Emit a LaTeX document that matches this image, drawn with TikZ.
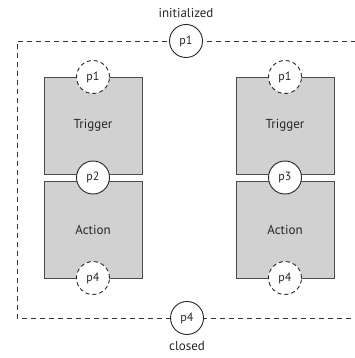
\documentclass[tikz,border=0pt]{standalone}
\usepackage{fontspec}
\setmainfont{PT Sans}
\begin{document}
\begin{tikzpicture}[x=1pt,y=-1pt,
  box/.style={draw=black!70,fill=black!18,line width=0.9pt,minimum width=98pt,minimum height=97pt,inner sep=0pt,font=\fontsize{13}{15}\selectfont,text=black!85},
  port/.style={circle,draw=black!85,fill=white,line width=0.9pt,minimum size=33pt,inner sep=0pt,font=\fontsize{12}{14}\selectfont,text=black!85},
  dport/.style={port,dash pattern=on 4pt off 3pt},
  lbl/.style={font=\fontsize{13}{15}\selectfont,text=black!85,inner sep=0pt},
  frame/.style={draw=black!80,line width=0.8pt,dash pattern=on 5pt off 4pt}]
\useasboundingbox (0,0) rectangle (355,358);
% frame
\coordinate (tr) at (356,41);
\coordinate (tl) at (17,41);
\coordinate (bl) at (17,318);
\coordinate (br) at (356,318);
\draw[frame] (tr) -- (tl) -- (bl) -- (br);
% boxes
\node[box] (t1) at (93,125.5) {Trigger};
\node[box] (a1) at (93,229.5) {Action};
\node[box] (t2) at (285,125.5) {Trigger};
\node[box] (a2) at (285,229.5) {Action};
% ports
\node[port] (p1) at (186,41) {p1};
\node[port] (p4) at (187,318) {p4};
\node[dport] (q1) at (93,77) {p1};
\node[dport] (q4) at (93,278) {p4};
\node[dport] (r1) at (285,77) {p1};
\node[dport] (r4) at (285,278) {p4};
\node[port] (p2) at (93,177.5) {p2};
\node[port] (p3) at (285,177.5) {p3};
% labels
\node[lbl] (init) at (186,13) {initialized};
\node[lbl] (clos) at (187,346) {closed};
\end{tikzpicture}
\end{document}
